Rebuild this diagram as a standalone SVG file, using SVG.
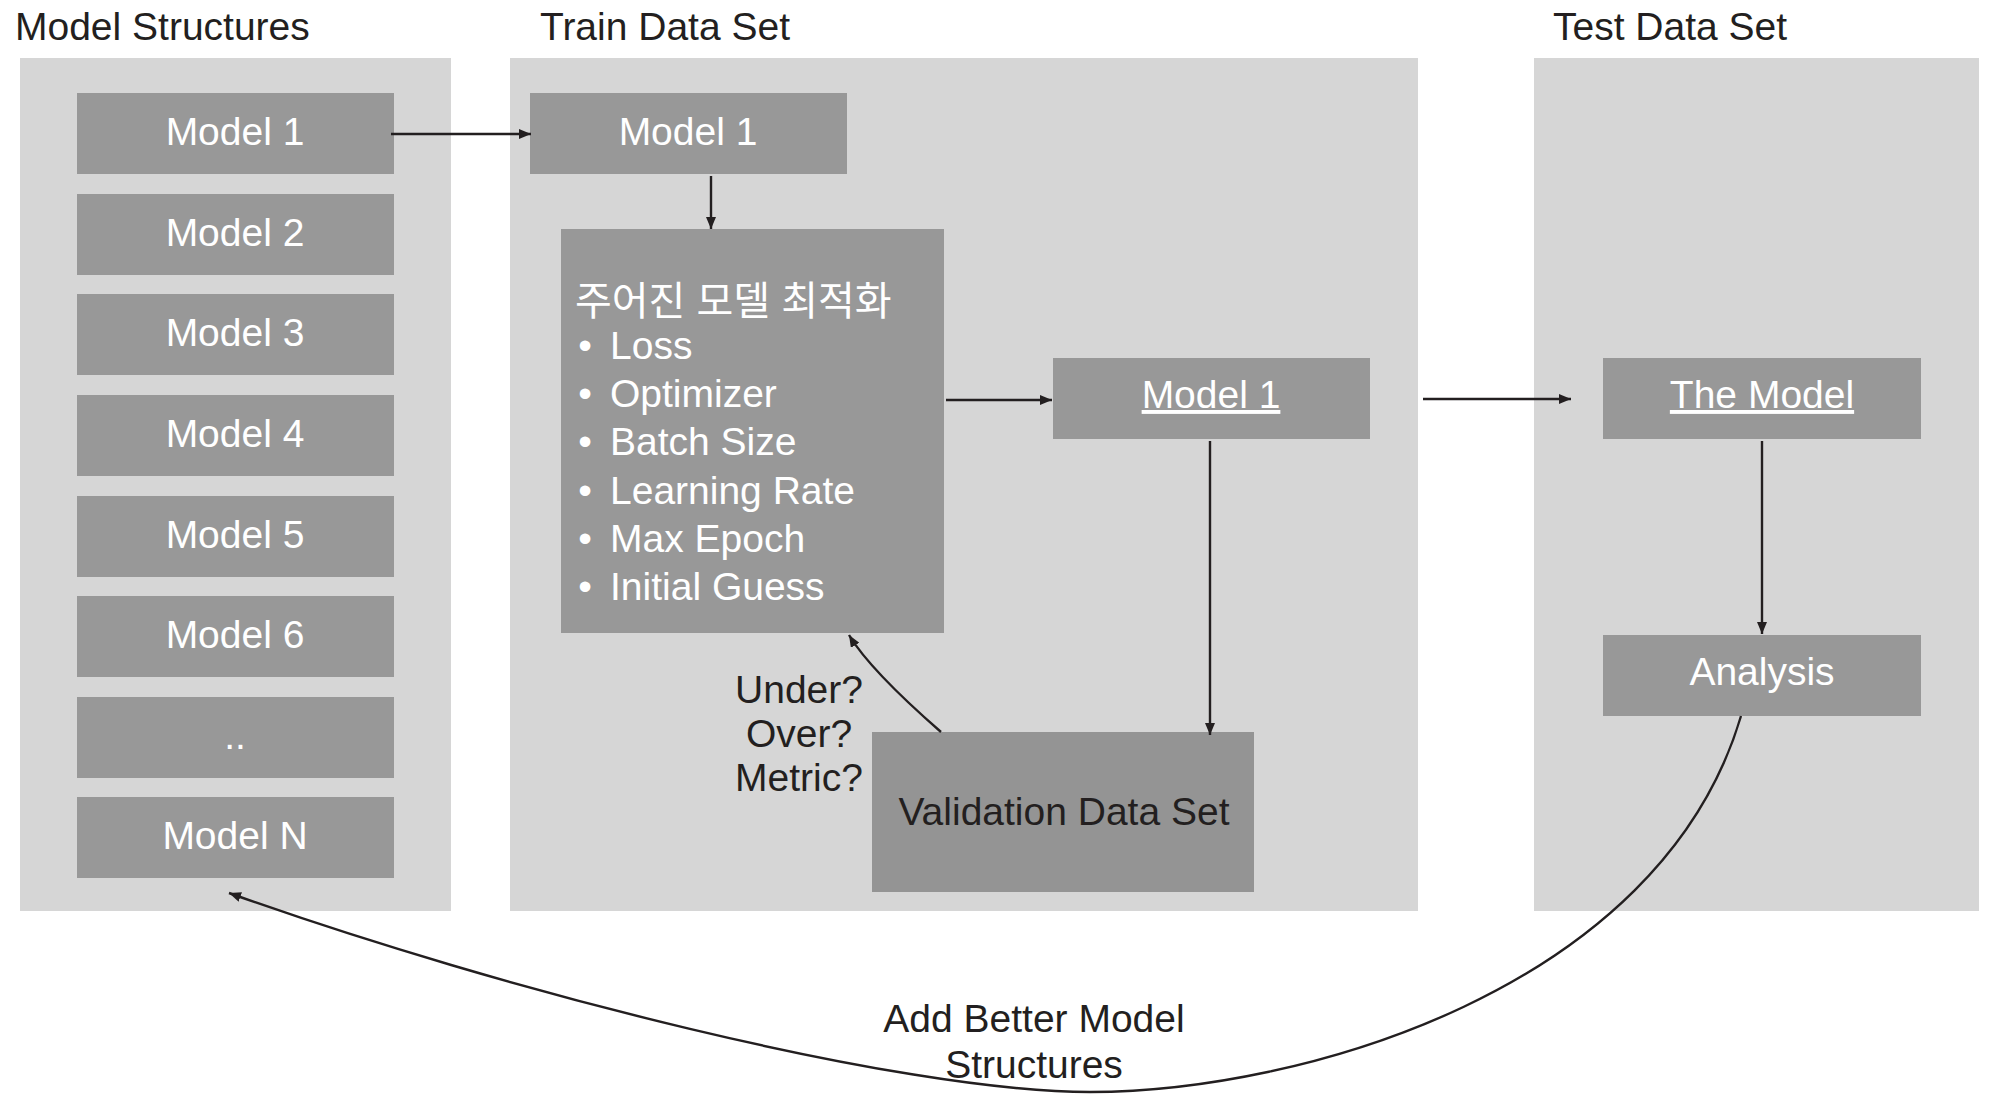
<svg xmlns="http://www.w3.org/2000/svg" width="1996" height="1118" viewBox="0 0 1996 1118">
<defs>
<marker id="ah" markerUnits="userSpaceOnUse" markerWidth="12" markerHeight="10" refX="12" refY="5" orient="auto">
<path d="M0,0 L12,5 L0,10 z" fill="#231f20"/>
</marker>
<style>
.panel{fill:#d6d6d6}
.box{fill:#989898}
.t{font-family:"Liberation Sans","Noto Sans CJK KR",sans-serif;font-size:39px}
.w{fill:#ffffff}
.k{fill:#231f20}
.c{text-anchor:middle}
.ln{fill:none;stroke:#231f20;stroke-width:2.4;marker-end:url(#ah)}
</style>
</defs>
<rect width="1996" height="1118" fill="#ffffff"/>
<g id="panels">
<rect class="panel" x="20" y="58" width="431" height="853"/>
<rect class="panel" x="510" y="58" width="908" height="853"/>
<rect class="panel" x="1534" y="58" width="445" height="853"/>
<text class="t k" x="15" y="40">Model Structures</text>
<text class="t k" x="540" y="40">Train Data Set</text>
<text class="t k" x="1553" y="40">Test Data Set</text>
</g>
<g id="ms1"><rect class="box" x="77" y="93" width="317" height="81"/><text class="t w c" x="235" y="145">Model 1</text></g>
<g id="ms2"><rect class="box" x="77" y="194" width="317" height="81"/><text class="t w c" x="235" y="246">Model 2</text></g>
<g id="ms3"><rect class="box" x="77" y="294" width="317" height="81"/><text class="t w c" x="235" y="346">Model 3</text></g>
<g id="ms4"><rect class="box" x="77" y="395" width="317" height="81"/><text class="t w c" x="235" y="447">Model 4</text></g>
<g id="ms5"><rect class="box" x="77" y="496" width="317" height="81"/><text class="t w c" x="235" y="548">Model 5</text></g>
<g id="ms6"><rect class="box" x="77" y="596" width="317" height="81"/><text class="t w c" x="235" y="648">Model 6</text></g>
<g id="ms7"><rect class="box" x="77" y="697" width="317" height="81"/><text class="t w c" x="235" y="749">..</text></g>
<g id="msN"><rect class="box" x="77" y="797" width="317" height="81"/><text class="t w c" x="235" y="849">Model N</text></g>
<g id="train-model"><rect class="box" x="530" y="93" width="317" height="81"/><text class="t w c" x="688" y="145">Model 1</text></g>
<g id="optimize">
<rect class="box" x="561" y="229" width="383" height="404"/>
<text class="t w" x="575" y="315" style="font-size:40px">주어진 모델 최적화</text>
<text class="t w c" x="585" y="359">•</text><text class="t w" x="610" y="359">Loss</text>
<text class="t w c" x="585" y="407">•</text><text class="t w" x="610" y="407">Optimizer</text>
<text class="t w c" x="585" y="455">•</text><text class="t w" x="610" y="455">Batch Size</text>
<text class="t w c" x="585" y="504">•</text><text class="t w" x="610" y="504">Learning Rate</text>
<text class="t w c" x="585" y="552">•</text><text class="t w" x="610" y="552">Max Epoch</text>
<text class="t w c" x="585" y="600">•</text><text class="t w" x="610" y="600">Initial Guess</text>
</g>
<g id="trained-model"><rect class="box" x="1053" y="358" width="317" height="81"/><text class="t w c" x="1211" y="408" text-decoration="underline">Model 1</text></g>
<g id="validation"><rect class="box" x="872" y="732" width="382" height="160" style="fill:#949494"/><text class="t k c" x="1064" y="825">Validation Data Set</text></g>
<g id="the-model"><rect class="box" x="1603" y="358" width="318" height="81"/><text class="t w c" x="1762" y="408" text-decoration="underline">The Model</text></g>
<g id="analysis"><rect class="box" x="1603" y="635" width="318" height="81"/><text class="t w c" x="1762" y="685">Analysis</text></g>
<g id="connectors">
<path class="ln" d="M391,134 H531"/>
<path class="ln" d="M711,176 V229"/>
<path class="ln" d="M946,400 H1052"/>
<path class="ln" d="M1210,441 V735"/>
<path class="ln" d="M941,732 Q870,670 849,635"/>
<path class="ln" d="M1423,399 H1571"/>
<path class="ln" d="M1762,441 V634"/>
<path class="ln" d="M1741,716 C1660,990 1300,1092 1090,1092 C900,1092 500,990 229,893"/>
<text class="t k c" x="799" y="703">Under?</text>
<text class="t k c" x="799" y="747">Over?</text>
<text class="t k c" x="799" y="791">Metric?</text>
<text class="t k c" x="1034" y="1032">Add Better Model</text>
<text class="t k c" x="1034" y="1078">Structures</text>
</g>
</svg>
